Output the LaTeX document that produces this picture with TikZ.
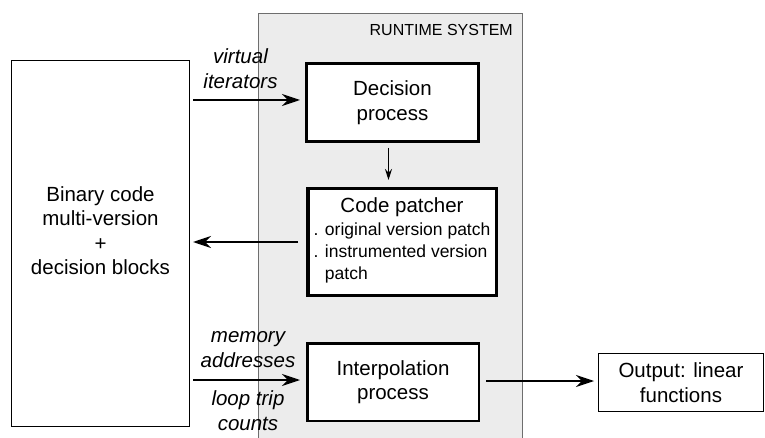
\documentclass[tikz,border=0pt]{standalone}
\usepackage{fontspec}
\setmainfont{Liberation Sans}
\usepackage{tikz}
\usetikzlibrary{arrows.meta,positioning}
\definecolor{runtimecolor}{RGB}{236,236,236}
\definecolor{runtimeborder}{RGB}{110,110,110}
\definecolor{linecolor}{RGB}{0,0,0}
\newcommand{\mainsize}{\fontsize{20.5}{24.5}\selectfont}
\newcommand{\patchsize}{\fontsize{17.5}{22}\selectfont}
\begin{document}
\begin{tikzpicture}[
    x=1pt, y=-1pt,
    procblock/.style={
      draw=linecolor, line width=3pt, fill=white,
      align=center, font=\mainsize, inner sep=0pt
    },
    plainblock/.style={
      draw=linecolor, line width=1pt, fill=white,
      align=center, font=\mainsize, inner sep=0pt
    },
    arrow/.style={-{Stealth[length=18pt, width=12pt]}, line width=1.3pt, linecolor},
    smallarrow/.style={-{Stealth[length=11pt, width=7pt]}, line width=1pt, linecolor},
    arrowlabel/.style={font=\mainsize\itshape, align=center, inner sep=0pt},
    runtimelabel/.style={font=\fontsize{16}{19}\selectfont, inner sep=0pt},
  ]
  \useasboundingbox (0,0) rectangle (765,438);

  % Runtime system area
  \node[draw=runtimeborder, line width=1pt, fill=runtimecolor,
        minimum width=264pt, minimum height=436pt] (runtime) at (390.5,232) {};
  \node[runtimelabel, anchor=north east] (rtlabel)
    at ([xshift=-10pt, yshift=-11pt]runtime.north east) {RUNTIME SYSTEM};

  % Blocks
  \node[plainblock, minimum width=178pt, minimum height=366pt,
        label={[name=bintext, font=\mainsize, align=center, yshift=13pt]center:{Binary code\\multi-version\\+\\decision blocks}}]
    (bin) at (100.5,243.5) {};
  \node[procblock, minimum width=172pt, minimum height=78pt] (dec) at (392.5,102.5) {Decision\\process};
  \node[procblock, line width=3.5pt, minimum width=188.5pt, minimum height=106.5pt] (patch) at (402,242)
    {Code patcher\\[-2pt]
     {\patchsize\begin{tabular}[t]{@{}l@{}}. original version patch\\. instrumented version\\\phantom{. }patch\end{tabular}}};
  \node[procblock, line width=2.5pt, minimum width=171.5pt, minimum height=77.5pt] (interp) at (393,382) {Interpolation\\process};
  \node[plainblock, minimum width=165pt, minimum height=58pt] (out) at (681,382.5) {Output: linear\\functions};

  % Connectors
  \draw[arrow, shorten <=3pt, shorten >=5pt] ([yshift=2.5pt]bin.east |- dec.west) -- ([yshift=2.5pt]dec.west)
    node[arrowlabel, midway, above=11pt, xshift=-7pt] (virt) {virtual\\iterators};
  \draw[smallarrow, shorten <=5pt, shorten >=7pt] ([xshift=-4pt]dec.south) -- ([xshift=-4pt]dec.south |- patch.north);
  \draw[arrow, shorten <=8pt, shorten >=3pt] (patch.west) -- (bin.east |- patch.west);
  \draw[arrow, shorten <=3pt, shorten >=6pt] ([yshift=2pt]bin.east |- interp.west) -- ([yshift=2pt]interp.west)
    node[arrowlabel, midway, above=12pt] (mem) {memory\\addresses}
    node[arrowlabel, midway, below=10pt] (trip) {loop trip\\counts};
  \draw[arrow, shorten <=6pt, shorten >=4pt] ([yshift=1pt]interp.east) -- ([yshift=1pt]interp.east -| out.west);
\end{tikzpicture}
\end{document}
